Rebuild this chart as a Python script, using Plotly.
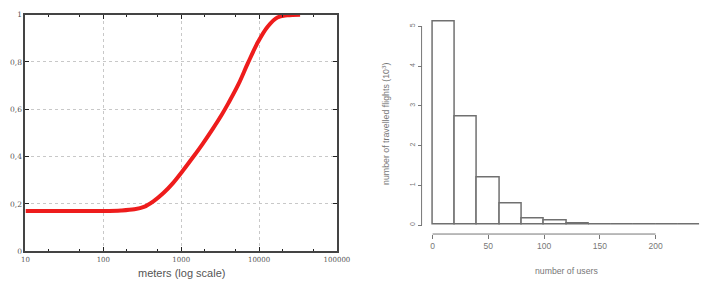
import plotly.graph_objects as go

# Left panel: CDF of distance (meters, log scale)
distance_m = [10, 20, 50, 100, 169, 250, 332, 443, 591, 789, 1054, 1407, 1877, 2506,
              3345, 4056, 5420, 7230, 9640, 12870, 17180, 22930, 33640]
cdf_values = [0.17, 0.17, 0.17, 0.17, 0.172, 0.177, 0.187, 0.212, 0.246, 0.289, 0.341,
              0.396, 0.453, 0.514, 0.579, 0.627, 0.705, 0.797, 0.883, 0.949, 0.988,
              0.997, 1.0]
left_xticks = [10, 100, 1000, 10000, 100000]
left_xticklabels = ["10", "100", "1000", "10000", "100000"]
left_yticks = [0, 0.2, 0.4, 0.6, 0.8, 1]
left_yticklabels = ["0", "0,2", "0,4", "0,6", "0,8", "1"]

# Right panel: histogram
bin_edges = [0, 20, 40, 60, 80, 100, 120, 140, 160, 180, 200, 220, 240]
flight_counts = [5.12, 2.73, 1.19, 0.55, 0.17, 0.10, 0.03, 0.01, 0.02, 0.01, 0.005, 0.01]
right_xticks = [0, 50, 100, 150, 200]
right_yticks = [0, 1, 2, 3, 4, 5]

W, H = 718, 294
def px(x):
    return x / W
def py(y):
    return (H - y) / H

bin_centers = [(a + b) / 2 for a, b in zip(bin_edges[:-1], bin_edges[1:])]
bin_widths = [b - a for a, b in zip(bin_edges[:-1], bin_edges[1:])]

fig = go.Figure()
fig.add_trace(go.Scatter(x=distance_m, y=cdf_values, mode="lines",
                         line=dict(color="#ee1c1c", width=4, shape="spline", smoothing=1.0),
                         xaxis="x", yaxis="y", showlegend=False))
fig.add_trace(go.Bar(x=bin_centers, y=flight_counts, width=bin_widths,
                     marker=dict(color="white", line=dict(color="#707070", width=1.5)),
                     xaxis="x2", yaxis="y2", showlegend=False))

grid = dict(showgrid=True, gridcolor="#c8c8c8", griddash="dot", gridwidth=1)
fig.update_layout(
    width=W, height=H, margin=dict(l=0, r=0, t=0, b=0),
    paper_bgcolor="white", plot_bgcolor="white",
    font=dict(family="Liberation Sans, Arial, sans-serif", color="#555"),
    xaxis=dict(type="log", range=[1, 5], domain=[px(22), px(341)], anchor="y",
               tickvals=left_xticks, ticktext=left_xticklabels,
               ticks="inside", ticklen=4, tickcolor="#222",
               minor=dict(ticks="inside", ticklen=2, dtick="D2", tickcolor="#222"),
               showline=True, linecolor="#444", linewidth=2, mirror="allticks",
               tickfont=dict(size=7, color="#555", family="DejaVu Serif"),
               zeroline=False, **grid),
    yaxis=dict(range=[0, 1], domain=[py(255), py(11)], anchor="x",
               tickvals=left_yticks, ticktext=left_yticklabels,
               ticks="inside", ticklen=4, tickcolor="#222",
               showline=True, linecolor="#444", linewidth=2, mirror="allticks",
               tickfont=dict(size=7.5, color="#555", family="DejaVu Serif"),
               zeroline=False, **grid),
    xaxis2=dict(range=[(430 - 439) / 1.1417, (716 - 439) / 1.1417],
                domain=[px(430), px(716)], anchor="free", position=py(237.3),
                tickvals=right_xticks, ticks="outside", ticklen=4, tickcolor="#777",
                showline=False, showgrid=False, zeroline=False,
                tickfont=dict(size=8.5, color="#777")),
    yaxis2=dict(range=[(228 - 232) / 41.0, (228 - 14) / 41.0],
                domain=[py(232), py(14)], anchor="free", position=px(427.7),
                tickvals=right_yticks, ticks="outside", ticklen=4, tickcolor="#777",
                tickangle=-90, showline=False, showgrid=False, zeroline=False,
                tickfont=dict(size=7, color="#777")),
    bargap=0,
    shapes=[
        dict(type="line", xref="x2", yref="paper", x0=right_xticks[0], x1=right_xticks[-1],
             y0=py(237.3), y1=py(237.3), line=dict(color="#777", width=1)),
        dict(type="line", xref="paper", yref="y2", x0=px(427.7), x1=px(427.7),
             y0=right_yticks[0], y1=right_yticks[-1], line=dict(color="#777", width=1)),
    ],
    annotations=[
        dict(text="meters (log scale)", xref="paper", yref="paper", x=px(182), y=py(277),
             xanchor="center", yanchor="middle",
             showarrow=False, font=dict(size=11, color="#555")),
        dict(text="number of users", xref="paper", yref="paper", x=px(576), y=py(275),
             xanchor="center", yanchor="middle",
             showarrow=False, font=dict(size=8.7, color="#777")),
        dict(text="number of travelled flights (10<sup>3</sup>)", xref="paper", yref="paper",
             x=px(391), y=py(124), xanchor="center", yanchor="middle",
             textangle=-90, showarrow=False,
             font=dict(size=8.8, color="#777")),
    ],
)
fig.write_html("out.html")
